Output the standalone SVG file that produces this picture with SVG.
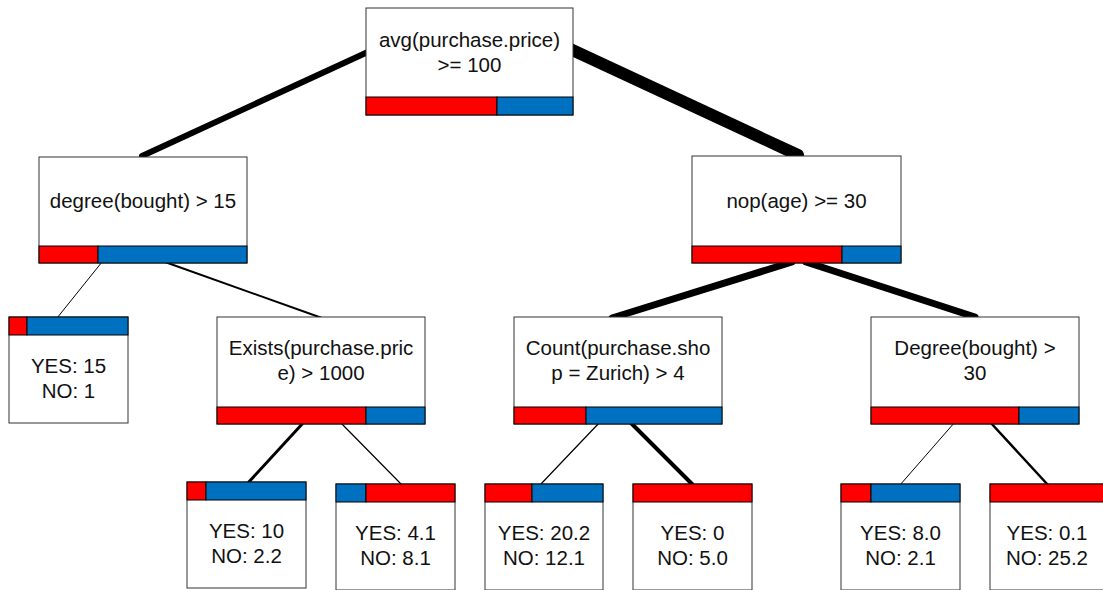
<svg xmlns="http://www.w3.org/2000/svg" width="1103" height="590" viewBox="0 0 1103 590">
<style>
.box{fill:#fff;stroke:#333;stroke-width:1}
.red{fill:#ff0000;stroke:#000;stroke-width:1}
.blue{fill:#0070c0;stroke:#000;stroke-width:1}
.t{font-family:"Liberation Sans",Arial,sans-serif;font-size:20.5px;fill:#111;text-anchor:middle}
.e{stroke:#000;fill:none;stroke-linecap:round}
</style>
<rect width="1103" height="590" fill="#fff"/>
<g id="connectors">
<line class="e" x1="142" y1="156" x2="370" y2="51" stroke-width="6"/>
<line class="e" x1="568" y1="48" x2="798" y2="155" stroke-width="12"/>
<line class="e" x1="102" y1="262" x2="57" y2="318" stroke-width="1"/>
<line class="e" x1="165" y1="262" x2="322" y2="318" stroke-width="2"/>
<line class="e" x1="792" y1="262" x2="612" y2="318" stroke-width="7"/>
<line class="e" x1="806" y1="262" x2="975" y2="317" stroke-width="7"/>
<line class="e" x1="304" y1="422" x2="247" y2="484" stroke-width="3"/>
<line class="e" x1="340" y1="422" x2="402" y2="485" stroke-width="1.2"/>
<line class="e" x1="600" y1="422" x2="540" y2="485" stroke-width="1.2"/>
<line class="e" x1="630" y1="422" x2="693" y2="485" stroke-width="4"/>
<line class="e" x1="955" y1="422" x2="900" y2="485" stroke-width="1"/>
<line class="e" x1="990" y1="422" x2="1048" y2="485" stroke-width="2.5"/>
</g>
<g id="root">
<rect class="box" x="366" y="8" width="207" height="107"/>
<rect class="red" x="366" y="97" width="131" height="18"/>
<rect class="blue" x="497" y="97" width="76" height="18"/>
<text class="t" x="469.5" y="47">avg(purchase.price)</text>
<text class="t" x="469.5" y="72">&gt;= 100</text>
</g>
<g id="n_degree15">
<rect class="box" x="39" y="157" width="208" height="106"/>
<rect class="red" x="39" y="246" width="59" height="17"/>
<rect class="blue" x="98" y="246" width="149" height="17"/>
<text class="t" x="143" y="208">degree(bought) &gt; 15</text>
</g>
<g id="n_nop">
<rect class="box" x="692" y="156" width="209" height="107"/>
<rect class="red" x="692" y="246" width="150" height="17"/>
<rect class="blue" x="842" y="246" width="59" height="17"/>
<text class="t" x="796.5" y="208">nop(age) &gt;= 30</text>
</g>
<g id="leaf_15_1">
<rect class="box" x="9" y="317" width="119" height="106"/>
<rect class="red" x="9" y="317" width="18" height="18"/>
<rect class="blue" x="27" y="317" width="101" height="18"/>
<text class="t" x="68.5" y="373">YES: 15</text>
<text class="t" x="68.5" y="398">NO: 1</text>
</g>
<g id="n_exists">
<rect class="box" x="217" y="317" width="208" height="107"/>
<rect class="red" x="217" y="407" width="149" height="17"/>
<rect class="blue" x="366" y="407" width="59" height="17"/>
<text class="t" x="321" y="355">Exists(purchase.pric</text>
<text class="t" x="321" y="380">e) &gt; 1000</text>
</g>
<g id="n_count">
<rect class="box" x="514" y="317" width="208" height="107"/>
<rect class="red" x="514" y="407" width="72" height="17"/>
<rect class="blue" x="586" y="407" width="136" height="17"/>
<text class="t" x="618" y="355">Count(purchase.sho</text>
<text class="t" x="618" y="380">p = Zurich) &gt; 4</text>
</g>
<g id="n_degree30">
<rect class="box" x="871" y="317" width="208" height="107"/>
<rect class="red" x="871" y="407" width="148" height="17"/>
<rect class="blue" x="1019" y="407" width="60" height="17"/>
<text class="t" x="975" y="355">Degree(bought) &gt;</text>
<text class="t" x="975" y="380">30</text>
</g>
<g id="leaf_10">
<rect class="box" x="187" y="482" width="119" height="106"/>
<rect class="red" x="187" y="482" width="19" height="18"/>
<rect class="blue" x="206" y="482" width="100" height="18"/>
<text class="t" x="246.5" y="538">YES: 10</text>
<text class="t" x="246.5" y="563">NO: 2.2</text>
</g>
<g id="leaf_4_1">
<rect class="box" x="336" y="484" width="119" height="106"/>
<rect class="blue" x="336" y="484" width="30" height="18"/>
<rect class="red" x="366" y="484" width="89" height="18"/>
<text class="t" x="395.5" y="540">YES: 4.1</text>
<text class="t" x="395.5" y="565">NO: 8.1</text>
</g>
<g id="leaf_20_2">
<rect class="box" x="485" y="484" width="118" height="106"/>
<rect class="red" x="485" y="484" width="47" height="18"/>
<rect class="blue" x="532" y="484" width="71" height="18"/>
<text class="t" x="544" y="540">YES: 20.2</text>
<text class="t" x="544" y="565">NO: 12.1</text>
</g>
<g id="leaf_0">
<rect class="box" x="633" y="484" width="119" height="106"/>
<rect class="red" x="633" y="484" width="119" height="18"/>
<text class="t" x="692.5" y="540">YES: 0</text>
<text class="t" x="692.5" y="565">NO: 5.0</text>
</g>
<g id="leaf_8_0">
<rect class="box" x="841" y="484" width="119" height="106"/>
<rect class="red" x="841" y="484" width="30" height="18"/>
<rect class="blue" x="871" y="484" width="89" height="18"/>
<text class="t" x="900.5" y="540">YES: 8.0</text>
<text class="t" x="900.5" y="565">NO: 2.1</text>
</g>
<g id="leaf_0_1">
<rect class="box" x="990" y="484" width="119" height="106"/>
<rect class="red" x="990" y="484" width="119" height="18"/>
<text class="t" x="1047" y="540">YES: 0.1</text>
<text class="t" x="1047" y="565">NO: 25.2</text>
</g>
</svg>
